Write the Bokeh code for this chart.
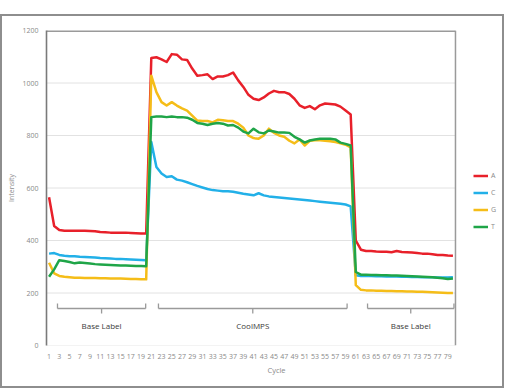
from bokeh.plotting import figure
from bokeh.models import Range1d, FixedTicker, Span, Legend, LegendItem
from bokeh.core.properties import value
from bokeh.embed import file_html
from bokeh.resources import INLINE

cycles = list(range(1, 81))

A = [565, 455, 440, 437, 437, 437, 437, 437, 436, 435, 432, 431, 430, 430, 430, 430, 429, 428, 427, 427,
     1095, 1098, 1090, 1080, 1110, 1108, 1090, 1088, 1055, 1028, 1030, 1033, 1015, 1025, 1025, 1030, 1040, 1010, 985, 955,
     940, 935, 945, 960, 970, 965, 965, 958, 940, 915, 905, 912, 900, 915, 922, 920, 918, 910, 895, 880,
     400, 365, 360, 360, 358, 357, 357, 355, 360, 356, 355, 354, 352, 350, 350, 348, 345, 345, 343, 342]
C = [350, 352, 345, 342, 340, 340, 338, 337, 336, 335, 333, 332, 331, 330, 330, 329, 328, 327, 326, 325,
     775, 680, 655, 642, 645, 632, 628, 622, 615, 608, 602, 596, 592, 590, 588, 588, 586, 582, 578, 575,
     572, 580, 572, 568, 566, 564, 562, 560, 558, 556, 554, 552, 550, 548, 546, 544, 542, 540, 537, 530,
     268, 265, 265, 265, 264, 264, 263, 263, 263, 262, 262, 261, 261, 260, 260, 260, 259, 259, 259, 260]
G = [315, 275, 265, 262, 260, 258, 258, 257, 257, 257, 256, 256, 255, 255, 255, 254, 253, 253, 252, 252,
     1028, 965, 927, 914, 927, 914, 903, 895, 876, 857, 855, 855, 850, 860, 858, 855, 855, 845, 830, 800,
     790, 788, 800, 826, 810, 800, 795, 780, 770, 785, 762, 780, 782, 782, 780, 778, 775, 770, 765, 755,
     230, 212, 210, 210, 209, 209, 208, 208, 207, 207, 206, 206, 205, 205, 204, 203, 202, 201, 200, 200]
T = [262, 290, 325, 322, 318, 313, 316, 314, 312, 310, 309, 308, 307, 306, 305, 305, 304, 303, 303, 302,
     870, 872, 872, 870, 872, 870, 870, 868, 860, 848, 845, 840, 845, 848, 845, 838, 840, 830, 815, 808,
     826, 812, 808, 819, 815, 811, 811, 810, 795, 785, 773, 781, 785, 788, 788, 788, 785, 773, 768, 762,
     280, 270, 270, 269, 269, 268, 268, 267, 267, 266, 265, 264, 263, 262, 261, 260, 258, 256, 253, 255]

series_names = ["A", "C", "G", "T"]
series_values = [A, C, G, T]
colors = ["#e8202a", "#22b0e8", "#f5bd18", "#1fa548"]

bracket_start = [2.65, 22.4, 63.3]
bracket_end = [19.9, 59.3, 80.2]
bracket_labels = ["Base Label", "CoolMPS", "Base Label"]

y_ticks = [0, 200, 400, 600, 800, 1000, 1200]
x_ticks = list(range(1, 80, 2))

FONT = "Open Sans"
GRAY = "#8a8a8a"

X_MIN, X_MAX = 0.5, 80.5          # plotting area in cycle units
X_VIEW_MAX = 90.48                # extra room on the right for the legend

p = figure(width=504, height=374, output_backend="svg", toolbar_location=None,
           x_range=Range1d(X_MIN, X_VIEW_MAX), y_range=Range1d(0, 1200),
           min_border_left=44, min_border_right=0, min_border_top=14, min_border_bottom=45,
           x_axis_label="Cycle", y_axis_label="Intensity")
p.styles = {"border": "2px solid #8e8e8e", "margin-top": "14px", "margin-left": "0px"}
p.background_fill_color = "white"
p.border_fill_color = "white"
p.outline_line_color = None
p.grid.grid_line_color = None

for ax in (p.xaxis[0], p.yaxis[0]):
    ax.major_tick_line_color = None
    ax.minor_tick_line_color = None
    ax.major_tick_out = 0
    ax.minor_tick_out = 0
    ax.major_tick_in = 0
    ax.minor_tick_in = 0
    ax.major_label_text_font = FONT
    ax.major_label_text_font_size = "7px"
    ax.major_label_text_color = GRAY
    ax.axis_label_text_font = FONT
    ax.axis_label_text_font_size = "7.5px"
    ax.axis_label_text_font_style = "normal"
    ax.axis_label_text_color = GRAY

p.xaxis.ticker = FixedTicker(ticks=x_ticks)
p.xaxis.axis_line_color = None
p.xaxis.major_label_standoff = 8
p.xaxis.axis_label_standoff = 3

p.yaxis.ticker = FixedTicker(ticks=y_ticks)
p.yaxis.axis_line_color = "#7a7a7a"
p.yaxis.axis_line_width = 1.6
p.yaxis.major_label_standoff = 8
p.yaxis.axis_label_standoff = 3
p.yaxis.axis_label_text_font_size = "7px"

# horizontal grid lines limited to the plotting area
grid_y = [t for t in y_ticks if 0 < t < 1200]
p.segment(x0=[X_MIN] * len(grid_y), x1=[X_MAX] * len(grid_y), y0=grid_y, y1=grid_y,
          line_color="#e2e2e2", line_width=1)
p.segment(x0=[X_MIN], x1=[X_MAX], y0=[0], y1=[0], line_color="#e8e8e8", line_width=1)
# plot-area border (top and right)
p.segment(x0=[X_MIN], x1=[X_MAX], y0=[1200], y1=[1200], line_color="#9a9a9a", line_width=3)
p.add_layout(Span(location=X_MAX, dimension="height", line_color="#9a9a9a", line_width=1.5))

# brackets
y_h, y_up, y_dn, y_txt = 141, 160, 122, 76
mids = [(s + e) / 2 for s, e in zip(bracket_start, bracket_end)]
x0, y0, x1, y1 = [], [], [], []
for s, e, m in zip(bracket_start, bracket_end, mids):
    x0 += [s, s, e, m]
    x1 += [e, s, e, m]
    y0 += [y_h, y_h, y_h, y_h]
    y1 += [y_h, y_up, y_up, y_dn]
p.segment(x0=x0, y0=y0, x1=x1, y1=y1, line_color="#9a9a9a", line_width=1.3)
p.text(x=mids, y=[y_txt] * len(mids), text=bracket_labels, text_align="center",
       text_baseline="middle", text_font=value(FONT), text_font_size="8px", text_color="#3a3a3a")

items = []
for name, vals, col in zip(series_names, series_values, colors):
    r = p.line(cycles, vals, line_color=col, line_width=2.5, line_join="round")
    items.append(LegendItem(label=name, renderers=[r]))

legend = Legend(items=items, location=(427, 110))
legend.glyph_width = 15
legend.glyph_height = 17
legend.label_height = 17
legend.spacing = 0
legend.padding = 0
legend.margin = 0
legend.label_standoff = 3
legend.border_line_color = None
legend.background_fill_alpha = 0
legend.label_text_font = FONT
legend.label_text_font_size = "7px"
legend.label_text_color = GRAY
p.add_layout(legend)

open("out.html", "w").write(file_html(p, INLINE))
